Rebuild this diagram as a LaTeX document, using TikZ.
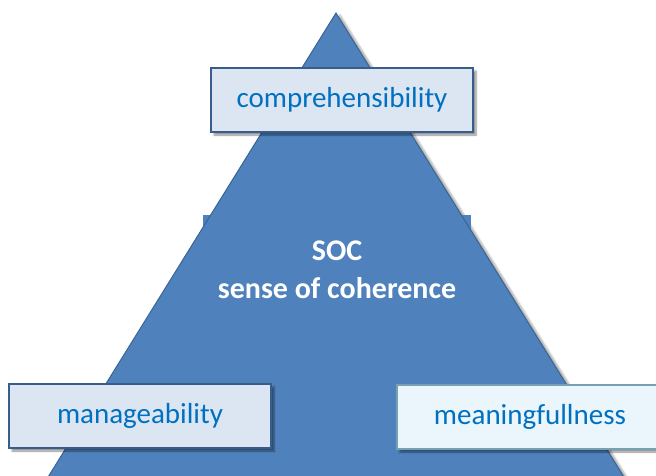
\documentclass[tikz,border=0pt]{standalone}
\usepackage{fontspec}
\setmainfont{Carlito}
\usetikzlibrary{shadows.blur}

\definecolor{socblue}{HTML}{4F81BD}
\definecolor{socedge}{HTML}{3A6594}
\definecolor{boxfill}{HTML}{DCE6F2}
\definecolor{boxedge}{HTML}{385D8A}
\definecolor{palefill}{HTML}{EAF5FC}
\definecolor{paleedge}{HTML}{76A0B4}
\definecolor{labeltext}{HTML}{0070C0}

\begin{document}
\begin{tikzpicture}[
    x=1pt, y=-1pt,
    factor/.style={
        draw=boxedge,
        line width=1.6pt,
        fill=boxfill,
        minimum width=262pt,
        minimum height=64pt,
        inner sep=0pt,
        text=labeltext,
        font=\fontsize{29}{34}\selectfont,
        blur shadow={shadow xshift=3pt, shadow yshift=-3pt, shadow opacity=45, shadow blur steps=6}
    },
    palefactor/.style={
        factor,
        draw=paleedge,
        fill=palefill
    }
]

\useasboundingbox (0,0) rectangle (656,475);
\clip (0,0) rectangle (656,475);

% big triangle with its text frame poking out at the sides
\fill[socblue, blur shadow={shadow xshift=4pt, shadow yshift=-2pt, shadow opacity=35}]
    (336,13) -- (627,482) -- (45,482) -- cycle;
\fill[socblue] (203,215) rectangle (471,330);
\fill[socblue] (336,13) -- (627,482) -- (45,482) -- cycle;
\draw[socedge, line width=1pt] (45,482) -- (336,13) -- (627,482);

\node[text=white, align=center, font=\bfseries\fontsize{30}{38}\selectfont] (soc) at (337,270)
{
    SOC\\
    sense of coherence
};

\node[factor] (comp) at (342,100)
{
    comprehensibility
};

\node[factor] (manage) at (140,416)
{
    manageability
};

\node[palefactor, minimum width=266pt] (meaning) at (530,417)
{
    meaningfullness
};

\end{tikzpicture}
\end{document}
